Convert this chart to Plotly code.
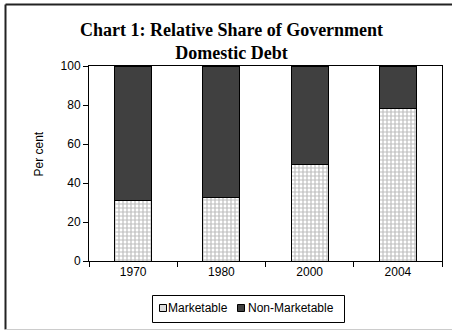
import plotly.graph_objects as go

years = ["1970", "1980", "2000", "2004"]
marketable = [31, 32.5, 49.5, 78]
non_marketable = [100 - v for v in marketable]
y_ticks = [0, 20, 40, 60, 80, 100]
series_names = ["Marketable", "Non-Marketable"]

# plot-area geometry in px (for converting custom legend / frame to paper coords)
L, R, T, B, W, H = 89, 10, 66, 70, 452, 331
PW, PH = W - L - R, H - T - B


def px(x):
    return (x - L) / PW


def py(y):
    return (H - B - y) / PH


fig = go.Figure()
fig.add_trace(go.Bar(
    x=years, y=marketable, name=series_names[0],
    marker=dict(color="white", line=dict(color="#000000", width=1),
                pattern=dict(shape="+", fgcolor="#7a7a7a", bgcolor="white", size=4, solidity=0.5)),
))
fig.add_trace(go.Bar(
    x=years, y=non_marketable, name=series_names[1],
    marker=dict(color="#404040", line=dict(color="#000000", width=1)),
))

shapes = [
    # outer frame
    dict(type="line", xref="paper", yref="paper", x0=px(5.5), x1=px(460), y0=py(4.5), y1=py(4.5),
         line=dict(color="#222222", width=2)),
    dict(type="line", xref="paper", yref="paper", x0=px(5.5), x1=px(5.5), y0=py(4.5), y1=py(329.5),
         line=dict(color="#222222", width=2)),
    dict(type="line", xref="paper", yref="paper", x0=px(5.5), x1=px(460), y0=py(329.5), y1=py(329.5),
         line=dict(color="#cccccc", width=1)),
    # legend box
    dict(type="rect", xref="paper", yref="paper", x0=px(152.5), x1=px(344.5), y0=py(295.5), y1=py(322.5),
         line=dict(color="#000000", width=1), fillcolor="white"),
    # legend symbols
    dict(type="rect", xref="paper", yref="paper", x0=px(159.5), x1=px(166.5), y0=py(304.5), y1=py(311.5),
         line=dict(color="#000000", width=1), fillcolor="#dcdcdc"),
    dict(type="rect", xref="paper", yref="paper", x0=px(237.5), x1=px(244.5), y0=py(304.5), y1=py(311.5),
         line=dict(color="#000000", width=1), fillcolor="#404040"),
]

annotations = [
    dict(text="<b>Chart 1: Relative Share of Government<br>Domestic Debt</b>", xref="paper", yref="paper",
         x=px(231.5), y=py(41), xanchor="center", yanchor="middle", showarrow=False,
         font=dict(family="Liberation Serif, Times New Roman", size=18, color="#000000")),
    dict(text="Per cent", textangle=-90, xref="paper", yref="paper",
         x=px(38.5), y=py(154), xanchor="center", yanchor="middle", showarrow=False,
         font=dict(size=12, color="#000000")),
    dict(text=series_names[0], xref="paper", yref="paper", x=px(167), y=py(308),
         xanchor="left", yanchor="middle", showarrow=False, borderpad=0,
         font=dict(size=12, color="#000000")),
    dict(text=series_names[1], xref="paper", yref="paper", x=px(247), y=py(308),
         xanchor="left", yanchor="middle", showarrow=False, borderpad=0,
         font=dict(size=12, color="#000000")),
]

fig.update_layout(
    barmode="stack",
    bargap=0.58,
    width=W, height=H,
    margin=dict(l=L, r=R, t=T, b=B, autoexpand=False),
    paper_bgcolor="white", plot_bgcolor="white",
    font=dict(family="Liberation Sans, Arial", size=12, color="#000000"),
    showlegend=False,
    shapes=shapes,
    annotations=annotations,
)
fig.update_xaxes(showline=True, linecolor="#000000", linewidth=1, mirror=True,
                 ticks="outside", ticklen=5, tickcolor="#000000", tickson="boundaries",
                 showgrid=False)
fig.update_yaxes(range=[0, 100], tickvals=y_ticks, showline=True, linecolor="#000000",
                 linewidth=1, mirror=True, ticks="outside", ticklen=5, tickcolor="#000000",
                 showgrid=False, zeroline=False)

fig.write_html("out.html")
